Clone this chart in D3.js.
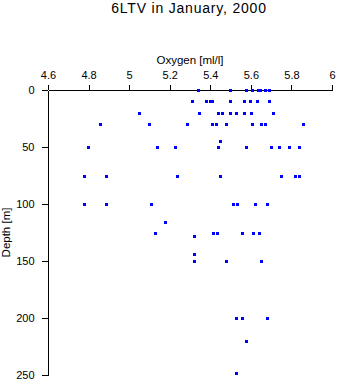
<!DOCTYPE html>
<html>
<head>
<meta charset="utf-8">
<script src="https://cdn.jsdelivr.net/npm/d3@7"></script>
<style>
  html, body { margin: 0; padding: 0; background: #fff; }
  svg { display: block; font-family: "Liberation Sans", Arial, Helvetica, sans-serif; }
</style>
</head>
<body>
<svg id="chart" width="338" height="384"></svg>
<script>
const title = "6LTV in January, 2000";
const xLabel = "Oxygen [ml/l]";
const yLabel = "Depth [m]";
const xTicks = [4.6, 4.8, 5, 5.2, 5.4, 5.6, 5.8, 6];
const yTicks = [0, 50, 100, 150, 200, 250];

// Observations: depth [m] and oxygen [ml/l]
const depths = [
  0, 0, 0, 0, 0, 0, 0, 0,
  10, 10, 10, 10, 10, 10, 10, 10, 10,
  20, 20, 20, 20, 20, 20, 20, 20, 20,
  30, 30, 30, 30, 30, 30, 30, 30, 30, 30,
  45,
  50, 50, 50, 50, 50, 50, 50, 50, 50,
  75, 75, 75, 75, 75, 75, 75,
  100, 100, 100, 100, 100, 100, 100,
  116,
  125, 125, 125, 125, 125, 125,
  128,
  144,
  150, 150, 150,
  200, 200, 200,
  220,
  248
];
const oxygen = [
  5.340, 5.498, 5.577, 5.606, 5.636, 5.645, 5.669, 5.689,
  5.308, 5.380, 5.400, 5.410, 5.498, 5.567, 5.597, 5.630, 5.690,
  5.048, 5.345, 5.440, 5.457, 5.498, 5.528, 5.567, 5.600, 5.710,
  4.858, 5.099, 5.286, 5.410, 5.429, 5.478, 5.606, 5.651, 5.670, 5.858,
  5.449,
  4.799, 5.138, 5.227, 5.439, 5.577, 5.700, 5.739, 5.789, 5.838,
  4.779, 4.887, 5.237, 5.449, 5.749, 5.818, 5.838,
  4.779, 4.887, 5.109, 5.512, 5.533, 5.620, 5.679,
  5.178,
  5.129, 5.414, 5.434, 5.557, 5.611, 5.640,
  5.319,
  5.319,
  5.319, 5.478, 5.648,
  5.528, 5.557, 5.680,
  5.577,
  5.528
];

const svg = d3.select("#chart");
const mLeft = 48, mRight = 332, mTop = 90, mBottom = 375;

const x = d3.scaleLinear().domain([4.6, 6]).range([mLeft, mRight]);
const y = d3.scaleLinear().domain([0, 250]).range([mTop, mBottom]);

svg.append("text")
  .attr("x", 189).attr("y", 13)
  .attr("text-anchor", "middle")
  .style("font-size", "14px")
  .style("letter-spacing", "0.8px")
  .text(title);

const xAxis = d3.axisTop(x).tickValues(xTicks).tickSize(5).tickSizeOuter(0).tickPadding(6)
  .tickFormat(d => String(d));
const yAxis = d3.axisLeft(y).tickValues(yTicks).tickSize(6).tickSizeOuter(0).tickPadding(7)
  .tickFormat(d => String(d));

const gx = svg.append("g").attr("transform", `translate(0,${mTop - 0.5})`).call(xAxis);
const gy = svg.append("g").attr("transform", `translate(${mLeft - 0.5},0)`).call(yAxis);

[gx, gy].forEach(g => {
  g.selectAll("path, line").attr("stroke", "#000").attr("shape-rendering", "crispEdges");
  g.selectAll("text").attr("fill", "#000").style("font-size", "11px")
    .style("font-family", '"Liberation Sans", Arial, sans-serif');
});

svg.append("text")
  .attr("x", (mLeft + mRight) / 2).attr("y", 64)
  .attr("text-anchor", "middle")
  .style("font-size", "11.5px")
  .text(xLabel);

svg.append("text")
  .attr("transform", `translate(10,${(mTop + mBottom) / 2}) rotate(-90)`)
  .attr("text-anchor", "middle")
  .style("font-size", "11.5px")
  .text(yLabel);

const pts = depths.map((d, i) => ({ depth: d, ox: oxygen[i] }));
svg.append("g").selectAll("rect").data(pts).join("rect")
  .attr("x", d => Math.round(x(d.ox)) - 1)
  .attr("y", d => Math.round(y(d.depth)) - 1)
  .attr("width", 3).attr("height", 3)
  .attr("fill", "#0000ff")
  .attr("shape-rendering", "crispEdges");
</script>
</body>
</html>
